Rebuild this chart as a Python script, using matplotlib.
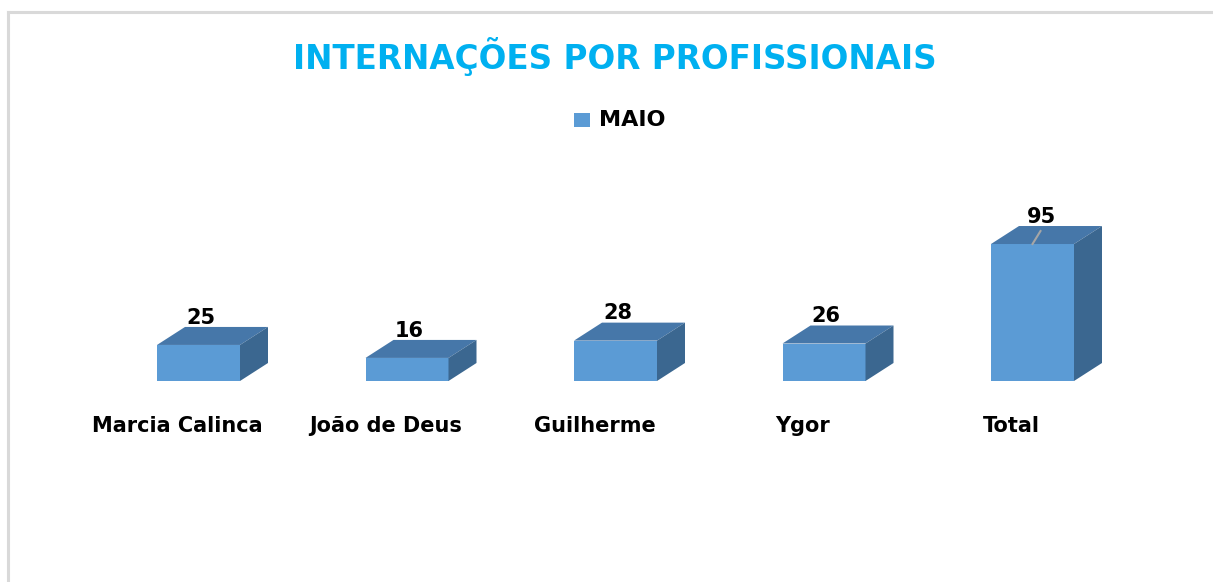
import matplotlib
matplotlib.use("Agg")
import matplotlib.pyplot as plt
from matplotlib.patches import Polygon, Rectangle
from matplotlib.lines import Line2D

categories = ["Marcia Calinca", "João de Deus", "Guilherme", "Ygor", "Total"]
values = [25, 16, 28, 26, 95]
series_name = "MAIO"
title = "INTERNAÇÕES POR PROFISSIONAIS"

FRONT = "#5b9bd5"
TOP = "#4677a9"
SIDE = "#3b6790"
FONT = "DejaVu Sans"

W, H = 1213, 582
fig = plt.figure(figsize=(W / 100, H / 100), dpi=100)
ax = fig.add_axes([0, 0, 1, 1])
ax.axis("off")

# pixel mapping
x0px, stepx = 198.5, 208.5
base_px_from_top = 381
ppu = 1.442
ax.set_xlim(-x0px / stepx, (W - x0px) / stepx)
ax.set_ylim(-(H - base_px_from_top) / ppu, base_px_from_top / ppu)

bw = 83 / stepx
dx = 28 / stepx
dy = 18 / ppu

imax = values.index(max(values))
xs = list(range(len(categories)))
ax.bar(xs, values, width=bw, color=FRONT, edgecolor="none", zorder=3)
for x, v in zip(xs, values):
    l, r = x - bw / 2, x + bw / 2
    ax.add_patch(Polygon([(l, v), (r, v), (r + dx, v + dy), (l + dx, v + dy)],
                         closed=True, facecolor=TOP, edgecolor="none", zorder=3))
    ax.add_patch(Polygon([(r, 0), (r + dx, dy), (r + dx, v + dy), (r, v)],
                         closed=True, facecolor=SIDE, edgecolor="none", zorder=3))
    lx = x + (9 / stepx if x == imax else 0.01)
    ax.text(lx, v + dy + 6.5, str(v), ha="center", va="center",
            fontsize=15, fontweight="bold", family=FONT, color="black", zorder=5)
    ax.text(x - 21 / stepx, -31, categories[x], ha="center", va="center",
            fontsize=15, fontweight="bold", family=FONT, color="black")

# leader line on tallest bar
ax.plot([imax, imax + 8 / stepx], [values[imax], values[imax] + 13 / ppu],
        color="#a6a6a6", lw=1.5, zorder=4)

# title
fig.text(615 / W, 1 - 57 / H, title, ha="center", va="center",
         fontsize=23.5, fontweight="bold", family=FONT, color="#00b0f0")

# legend
fig.patches.append(Rectangle((574 / W, 1 - 127 / H), 16 / W, 14 / H,
                             transform=fig.transFigure, facecolor=FRONT,
                             edgecolor="none"))
fig.text(599 / W, 1 - 120 / H, series_name, ha="left", va="center",
         fontsize=16, fontweight="bold", family=FONT, color="black")

# border
fig.lines.append(Line2D([8 / W, 1], [1 - 12 / H, 1 - 12 / H],
                        transform=fig.transFigure, color="#d9d9d9", lw=2.2))
fig.lines.append(Line2D([8 / W, 8 / W], [0, 1 - 12 / H],
                        transform=fig.transFigure, color="#d9d9d9", lw=2.2))

fig.savefig("out.png", dpi=100, facecolor="white")
